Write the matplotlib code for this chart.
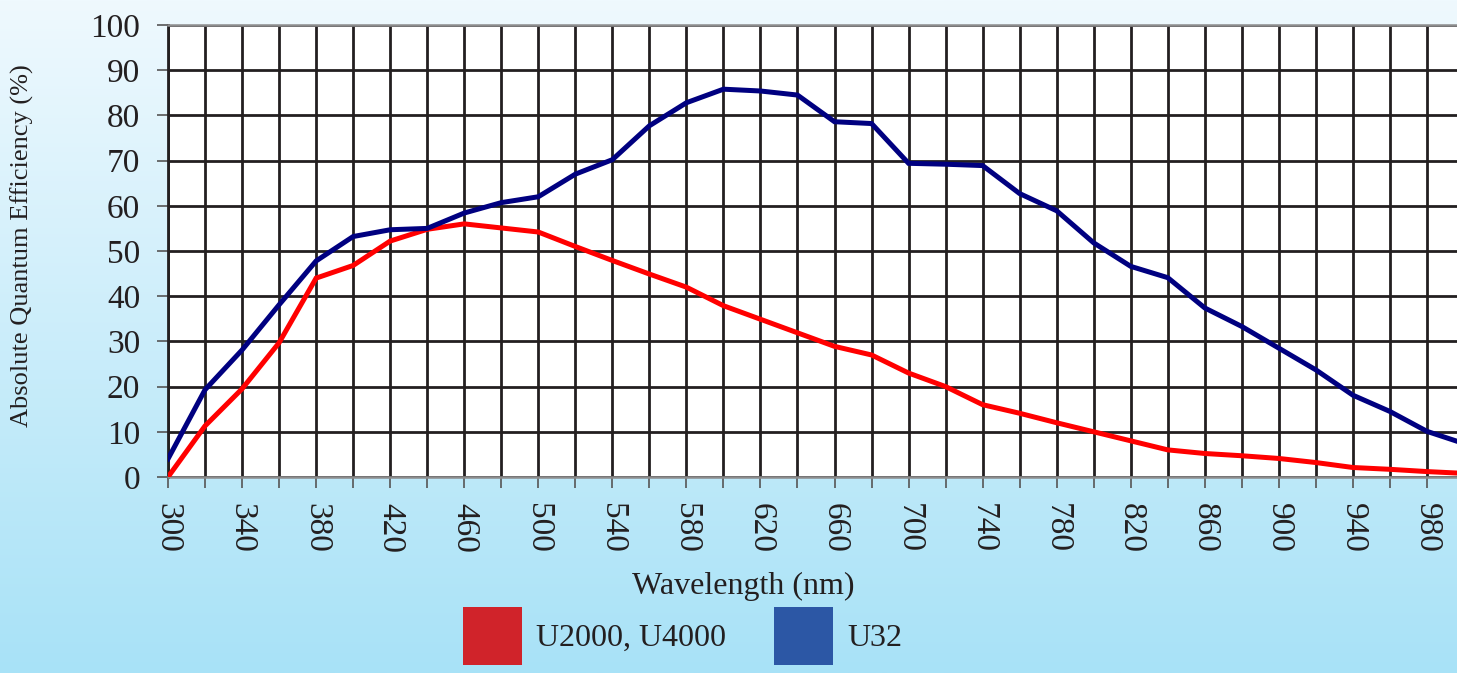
import numpy as np
import matplotlib
matplotlib.use('Agg')
from matplotlib import pyplot as plt
from matplotlib.colors import LinearSegmentedColormap
from matplotlib.patches import Patch

## Data
wavelength = [300, 320, 340, 360, 380, 400, 420, 440, 460, 480, 500, 520,
              540, 560, 580, 600, 620, 640, 660, 680, 700, 720, 740, 760,
              780, 800, 820, 840, 860, 880, 900, 920, 940, 960, 980, 1000]
qe_u2000 = [0.0, 11.3, 19.5, 29.7, 44.0, 46.8, 52.2, 54.8, 56.0, 55.1, 54.2, 51.0,
            47.9, 44.9, 42.0, 37.9, 34.9, 31.9, 28.9, 27.0, 23.0, 20.0, 16.0, 14.1,
            12.0, 10.0, 8.0, 6.0, 5.2, 4.7, 4.1, 3.2, 2.1, 1.7, 1.2, 0.8]
qe_u32 = [4.0, 19.3, 28.1, 38.1, 47.8, 53.2, 54.7, 55.0, 58.4, 60.7, 62.0, 67.0,
          70.2, 77.7, 82.8, 85.8, 85.4, 84.5, 78.6, 78.2, 69.4, 69.2, 68.9, 62.7,
          58.9, 51.8, 46.6, 44.1, 37.4, 33.3, 28.5, 23.7, 18.1, 14.5, 10.1, 7.4]
x_labels = list(range(300, 1000, 40))
y_ticks = list(range(0, 101, 10))
legend_names = ['U2000, U4000', 'U32']

plt.rcParams['font.family'] = ['Liberation Serif', 'DejaVu Serif']

W, H = 1457, 673
fig = plt.figure(figsize=(W / 100, H / 100), dpi=100)

## Gradient background
bg = fig.add_axes([0, 0, 1, 1], zorder=-10)
cmap = LinearSegmentedColormap.from_list('bg', ['#eff9fe', '#a8e2f7'])
bg.imshow(np.linspace(0, 1, 256).reshape(-1, 1), aspect='auto', cmap=cmap,
          extent=[0, 1, 0, 1])
bg.axis('off')

## Main axes
left, right, top, bottom = 168, 1464, 25, 477
ax = fig.add_axes([left / W, 1 - bottom / H, (right - left) / W, (bottom - top) / H])
ax.set_facecolor('white')

ax.plot(wavelength, qe_u2000, color='#ff0000', lw=3.6, zorder=3, solid_joinstyle='miter')
ax.plot(wavelength, qe_u32, color='#000080', lw=3.6, zorder=4, solid_joinstyle='miter')

ax.set_xlim(300, 1000)
ax.set_ylim(0, 100)
ax.set_xticks(x_labels)
ax.set_xticks(wavelength, minor=True)
ax.set_yticks(y_ticks)

ax.grid(True, which='both', color='#231f20', lw=2.0)
ax.tick_params(axis='x', which='both', length=8, width=1.2, color='#555555',
               direction='out', pad=11, labelsize=24, labelrotation=-90)
ax.tick_params(axis='y', length=8, width=1.2, color='#555555', direction='out',
               pad=12, labelsize=24)
for t in ax.get_yticklabels() + ax.get_xticklabels():
    t.set_color('#231f20')

for s in ['top', 'bottom']:
    ax.spines[s].set_color('#8c8c8c')
    ax.spines[s].set_linewidth(1.8)
ax.spines['left'].set_color('#231f20')
ax.spines['left'].set_linewidth(2.0)
ax.spines['right'].set_visible(False)

ax.set_xlabel('Wavelength (nm)', fontsize=23, color='#231f20', va='center')
ax.xaxis.set_label_coords((743 - left) / (right - left), (bottom - 586) / (bottom - top))
ax.set_ylabel('Absolute Quantum Efficiency (%)', fontsize=19, color='#231f20', va='center')
ax.yaxis.set_label_coords((22 - left) / (right - left), (bottom - 246) / (bottom - top))

## Legend with square swatches
handles = [Patch(facecolor='#d0232a', edgecolor='none'),
           Patch(facecolor='#2c57a5', edgecolor='none')]
fig.legend(handles, legend_names, loc='upper left',
           bbox_to_anchor=(463 / W, 1 - 607 / H), ncol=2, frameon=False,
           fontsize=23, handlelength=1.85, handleheight=2.4,
           handletextpad=0.45, columnspacing=1.5, borderpad=0, borderaxespad=0,
           labelcolor='#231f20')

fig.savefig('out.png', dpi=100)
